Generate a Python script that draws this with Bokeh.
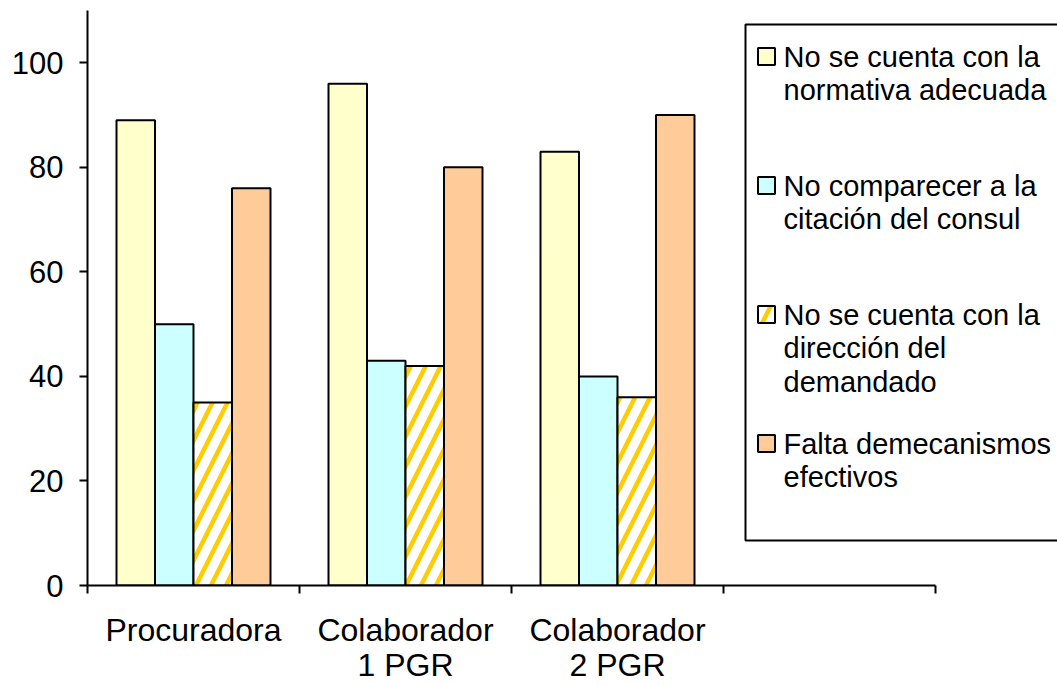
from bokeh.plotting import figure
from bokeh.models import FixedTicker, Range1d, BoxAnnotation, ColumnDataSource
from bokeh.core.properties import value
from bokeh.embed import file_html
from bokeh.resources import INLINE

categories = ["Procuradora", "Colaborador\n1 PGR", "Colaborador\n2 PGR"]
series_names = [
    "No se cuenta con la\nnormativa adecuada",
    "No comparecer a la\ncitación del consul",
    "No se cuenta con la\ndirección del\ndemandado",
    "Falta demecanismos\nefectivos",
]
normativa = [89, 96, 83]
comparecer = [50, 43, 40]
direccion = [35, 42, 36]
mecanismos = [76, 80, 90]
y_ticks = [0, 20, 40, 60, 80, 100]
n_slots = 4
y_max = 110

FONT = "Liberation Sans"
# layout (pixels)
left_px = 87
top_px = 10
slot_px = 212
frame_w = 970
frame_h = 575
bar_w = 0.1816

def dx(px):
    return (px - left_px) / slot_px

def dy(py):
    return (top_px + frame_h - py) * y_max / frame_h

centers = [i + 0.5 for i in range(len(categories))]

p = figure(
    frame_width=frame_w, frame_height=frame_h,
    x_range=Range1d(0, frame_w / slot_px), y_range=Range1d(0, y_max),
    output_backend="svg", toolbar_location=None,
    min_border_left=left_px, min_border_top=top_px, min_border_right=0, min_border_bottom=0,
)
p.outline_line_color = None
p.xgrid.visible = False
p.ygrid.visible = False

series = [normativa, comparecer, direccion, mecanismos]
styles = [
    dict(fill_color="#FFFFCC"),
    dict(fill_color="#CCFFFF"),
    dict(fill_color="white", hatch_pattern="/", hatch_color="#FFCC00", hatch_scale=30, hatch_weight=4.5),
    dict(fill_color="#FFCC99"),
]
for k, (vals, st) in enumerate(zip(series, styles)):
    xs = [c + (k - 1.5) * bar_w for c in centers]
    p.vbar(x=xs, top=vals, width=bar_w, bottom=0, line_color="black", line_width=2, **st)

xa = p.xaxis[0]
xa.ticker = FixedTicker(ticks=centers, minor_ticks=list(range(n_slots + 1)))
xa.major_label_overrides = {c: lab for c, lab in zip(centers, categories)}
xa.bounds = (0, n_slots)
xa.major_tick_out = 0
xa.major_tick_in = 0
xa.minor_tick_out = 8
xa.minor_tick_in = 0
xa.minor_tick_line_color = "black"
xa.minor_tick_line_width = 2
xa.axis_line_width = 2
xa.axis_line_color = "black"
xa.major_label_standoff = 18
xa.major_label_text_font = FONT
xa.major_label_text_font_size = "32px"
xa.major_label_text_color = "black"
xa.major_label_text_line_height = 0.98

ya = p.yaxis[0]
ya.ticker = FixedTicker(ticks=y_ticks)
ya.major_tick_out = 8
ya.major_tick_in = 0
ya.major_tick_line_width = 2
ya.major_tick_line_color = "black"
ya.minor_tick_line_color = None
ya.axis_line_width = 2
ya.axis_line_color = "black"
ya.major_label_standoff = 16
ya.major_label_text_font = FONT
ya.major_label_text_font_size = "31px"
ya.major_label_text_color = "black"

# legend box (drawn by hand so the swatch sits beside the first text line)
leg_left, leg_top, leg_bottom = 745, 24, 540
first_row, row_pitch = 56, 129
sw_x, sw_size, txt_x = 766, 17, 783
p.add_layout(BoxAnnotation(
    left=dx(leg_left), right=dx(left_px + frame_w + 20), top=dy(leg_top), bottom=dy(leg_bottom),
    fill_color="white", fill_alpha=1, line_color="black", line_width=2, line_alpha=1,
    level="underlay",
))
rows_py = [first_row + i * row_pitch for i in range(len(series_names))]
for k, st in enumerate(styles):
    p.rect(x=[dx(sw_x)], y=[dy(rows_py[k])], width=sw_size, height=sw_size,
           width_units="screen", height_units="screen",
           line_color="black", line_width=2, **st)
leg_src = ColumnDataSource(dict(
    x=[dx(txt_x)] * len(series_names),
    y=[dy(r - 16) for r in rows_py],
    text=series_names,
))
p.text(x="x", y="y", text="text", source=leg_src, text_font=value(FONT),
       text_font_size=value("29px"), text_line_height=1.06, text_baseline="top",
       text_align="left", text_color="black")

open("out.html", "w").write(file_html(p, INLINE))
